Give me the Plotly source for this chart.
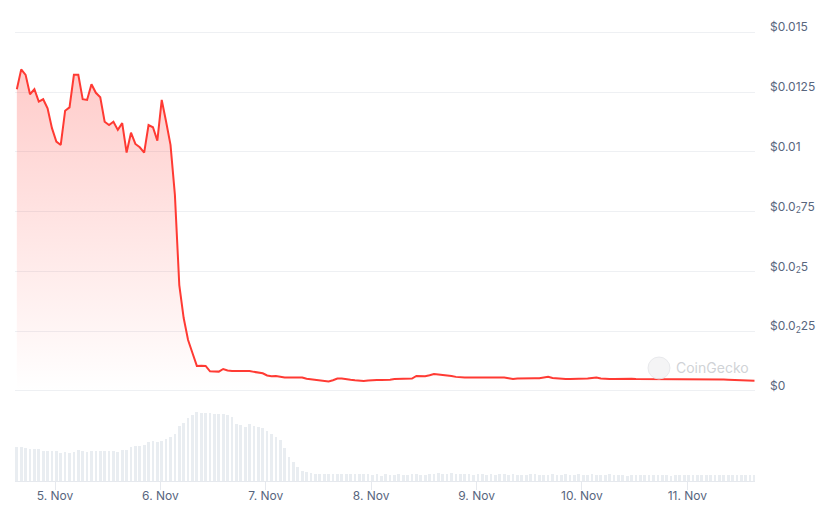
import pandas as pd
import plotly.graph_objects as go

# hourly samples, 4 Nov 15:18 -> 11 Nov 15:18
times = pd.date_range("2024-11-04 15:18", periods=169, freq="h")

price = [
    0.01262, 0.01345, 0.01322, 0.01241, 0.01262, 0.01210, 0.01220, 0.01182, 0.01099, 0.01043,
    0.01029, 0.01172, 0.01186, 0.01322, 0.01322, 0.01220, 0.01217, 0.01283, 0.01247, 0.01228,
    0.01126, 0.01112, 0.01126, 0.01092, 0.01120, 0.00997, 0.01080, 0.01033, 0.01019, 0.00997,
    0.01112, 0.01103, 0.01047, 0.01217, 0.01126, 0.01029, 0.00820, 0.00443, 0.00305, 0.00213,
    0.00159, 0.00105, 0.00106, 0.00105, 0.00082, 0.00081, 0.00081, 0.00092, 0.00086, 0.00084,
    0.00084, 0.00084, 0.00084, 0.00084, 0.00080, 0.00078, 0.00074, 0.00065, 0.00062, 0.00063,
    0.00059, 0.00056, 0.00056, 0.00056, 0.00057, 0.00056, 0.00051, 0.00049, 0.00046, 0.00043,
    0.00040, 0.00040, 0.00045, 0.00052, 0.00052, 0.00051, 0.00047, 0.00045, 0.00043, 0.00042,
    0.00044, 0.00046, 0.00046, 0.00046, 0.00046, 0.00047, 0.00050, 0.00050, 0.00050, 0.00050,
    0.00052, 0.00063, 0.00063, 0.00062, 0.00066, 0.00071, 0.00069, 0.00067, 0.00067, 0.00063,
    0.00059, 0.00056, 0.00056, 0.00056, 0.00056, 0.00056, 0.00056, 0.00056, 0.00057, 0.00059,
    0.00059, 0.00056, 0.00053, 0.00050, 0.00052, 0.00053, 0.00053, 0.00053, 0.00053, 0.00053,
    0.00056, 0.00059, 0.00054, 0.00052, 0.00051, 0.00050, 0.00050, 0.00050, 0.00050, 0.00051,
    0.00052, 0.00054, 0.00056, 0.00052, 0.00050, 0.00050, 0.00050, 0.00051, 0.00050, 0.00050,
    0.00051, 0.00050, 0.00050, 0.00051, 0.00050, 0.00050, 0.00050, 0.00050, 0.00050, 0.00050,
    0.00050, 0.00050, 0.00050, 0.00050, 0.00050, 0.00050, 0.00050, 0.00049, 0.00049, 0.00049,
    0.00048, 0.00048, 0.00047, 0.00046, 0.00046, 0.00045, 0.00045, 0.00044, 0.00043,
]

volume = [
    34, 34, 33, 32, 32, 32, 30, 30, 30, 30, 28, 29, 28, 29, 31, 30, 29, 30, 30, 30,
    30, 30, 30, 29, 31, 31, 34, 35, 35, 36, 39, 40, 39, 40, 42, 44, 47, 55, 58, 63,
    66, 69, 68, 68, 68, 67, 67, 67, 66, 64, 57, 56, 54, 57, 55, 54, 53, 50, 47, 44,
    41, 33, 24, 19, 14, 10, 9, 8, 7.5, 7, 7, 7, 7, 7, 7, 7, 7, 7, 7, 7,
    7, 6, 7, 5, 7, 6, 6, 7, 6, 6, 7, 7, 6, 6, 7, 7, 8, 7, 7, 8,
    7, 7, 7, 7, 6, 7, 7, 6, 7, 6, 7, 7, 6, 7, 6, 6, 6, 7, 7, 6,
    6, 6, 7, 6, 6, 7, 6, 6, 7, 6, 6, 7, 6, 6, 6, 7, 6, 6, 6, 5,
    6, 6, 6, 6, 6, 6, 6, 6, 6, 5, 6, 6, 6, 6, 6, 6, 6, 6, 6, 6,
    6, 6, 6, 6, 6, 6, 6, 6, 6,
]

tick_vals = [0, 0.0025, 0.005, 0.0075, 0.01, 0.0125, 0.015]
tick_text = ["$0", "$0.0<sub>2</sub>25", "$0.0<sub>2</sub>5", "$0.0<sub>2</sub>75",
             "$0.01", "$0.0125", "$0.015"]

RED = "#ff3a33"
GRID = "#eef0f3"
TXT = "#58667e"

fig = go.Figure()

fig.add_trace(go.Bar(
    x=times, y=volume, yaxis="y2",
    marker=dict(color="#e9edf1", line=dict(width=0)),
    width=0.62 * 3600000,
    hoverinfo="skip",
))

fig.add_trace(go.Scatter(
    x=times, y=price, mode="lines",
    line=dict(color=RED, width=2),
    fill="tozeroy",
    fillgradient=dict(
        type="vertical", start=0, stop=0.0134,
        colorscale=[[0, "rgba(255,58,51,0.0)"], [1, "rgba(255,58,51,0.26)"]],
    ),
))

fig.update_layout(
    width=831, height=513,
    margin=dict(l=15, r=76, t=15, b=32),
    paper_bgcolor="white", plot_bgcolor="white",
    showlegend=False,
    font=dict(family="Inter, sans-serif", size=12, color=TXT),
    bargap=0,
    xaxis=dict(
        type="date", automargin=False,
        range=["2024-11-04 14:53", "2024-11-11 15:25"],
        tick0="2024-11-05", dtick=86400000,
        tickformat="%-d. %b",
        showgrid=False, zeroline=False,
        showline=True, linecolor="#e6e9ee", linewidth=1,
        ticks="outside", ticklen=8, tickcolor="#e6e9ee",
        ticklabelstandoff=-4,
        tickfont=dict(size=12, color=TXT),
    ),
    yaxis=dict(
        side="right", automargin=False,
        range=[-0.003764, 0.015723],
        tickvals=tick_vals, ticktext=tick_text,
        showgrid=True, gridcolor=GRID, gridwidth=1,
        zeroline=False, showline=False, ticks="",
        ticklabelstandoff=14, ticklabelshift=-5,
        tickfont=dict(size=12, color=TXT),
    ),
    yaxis2=dict(
        overlaying="y", range=[0, max(volume) * 466 / 69],
        visible=False, showgrid=False, zeroline=False,
    ),
)

# CoinGecko watermark
fig.add_shape(type="circle", xref="paper", yref="paper",
              x0=0.8554, x1=0.8851, y0=0.2189, y1=0.2661,
              fillcolor="rgba(236,237,239,0.6)", line=dict(color="rgba(228,229,232,0.8)", width=1),
              layer="above")
fig.add_annotation(text="CoinGecko", xref="paper", yref="paper",
                   x=0.942, y=0.2446, xanchor="center", yanchor="middle", showarrow=False,
                   font=dict(size=14, color="rgba(196,199,204,0.8)", family="Inter, sans-serif"))

fig.write_html("out.html", config={"displayModeBar": False},
               post_script="document.body.style.margin='0';")
